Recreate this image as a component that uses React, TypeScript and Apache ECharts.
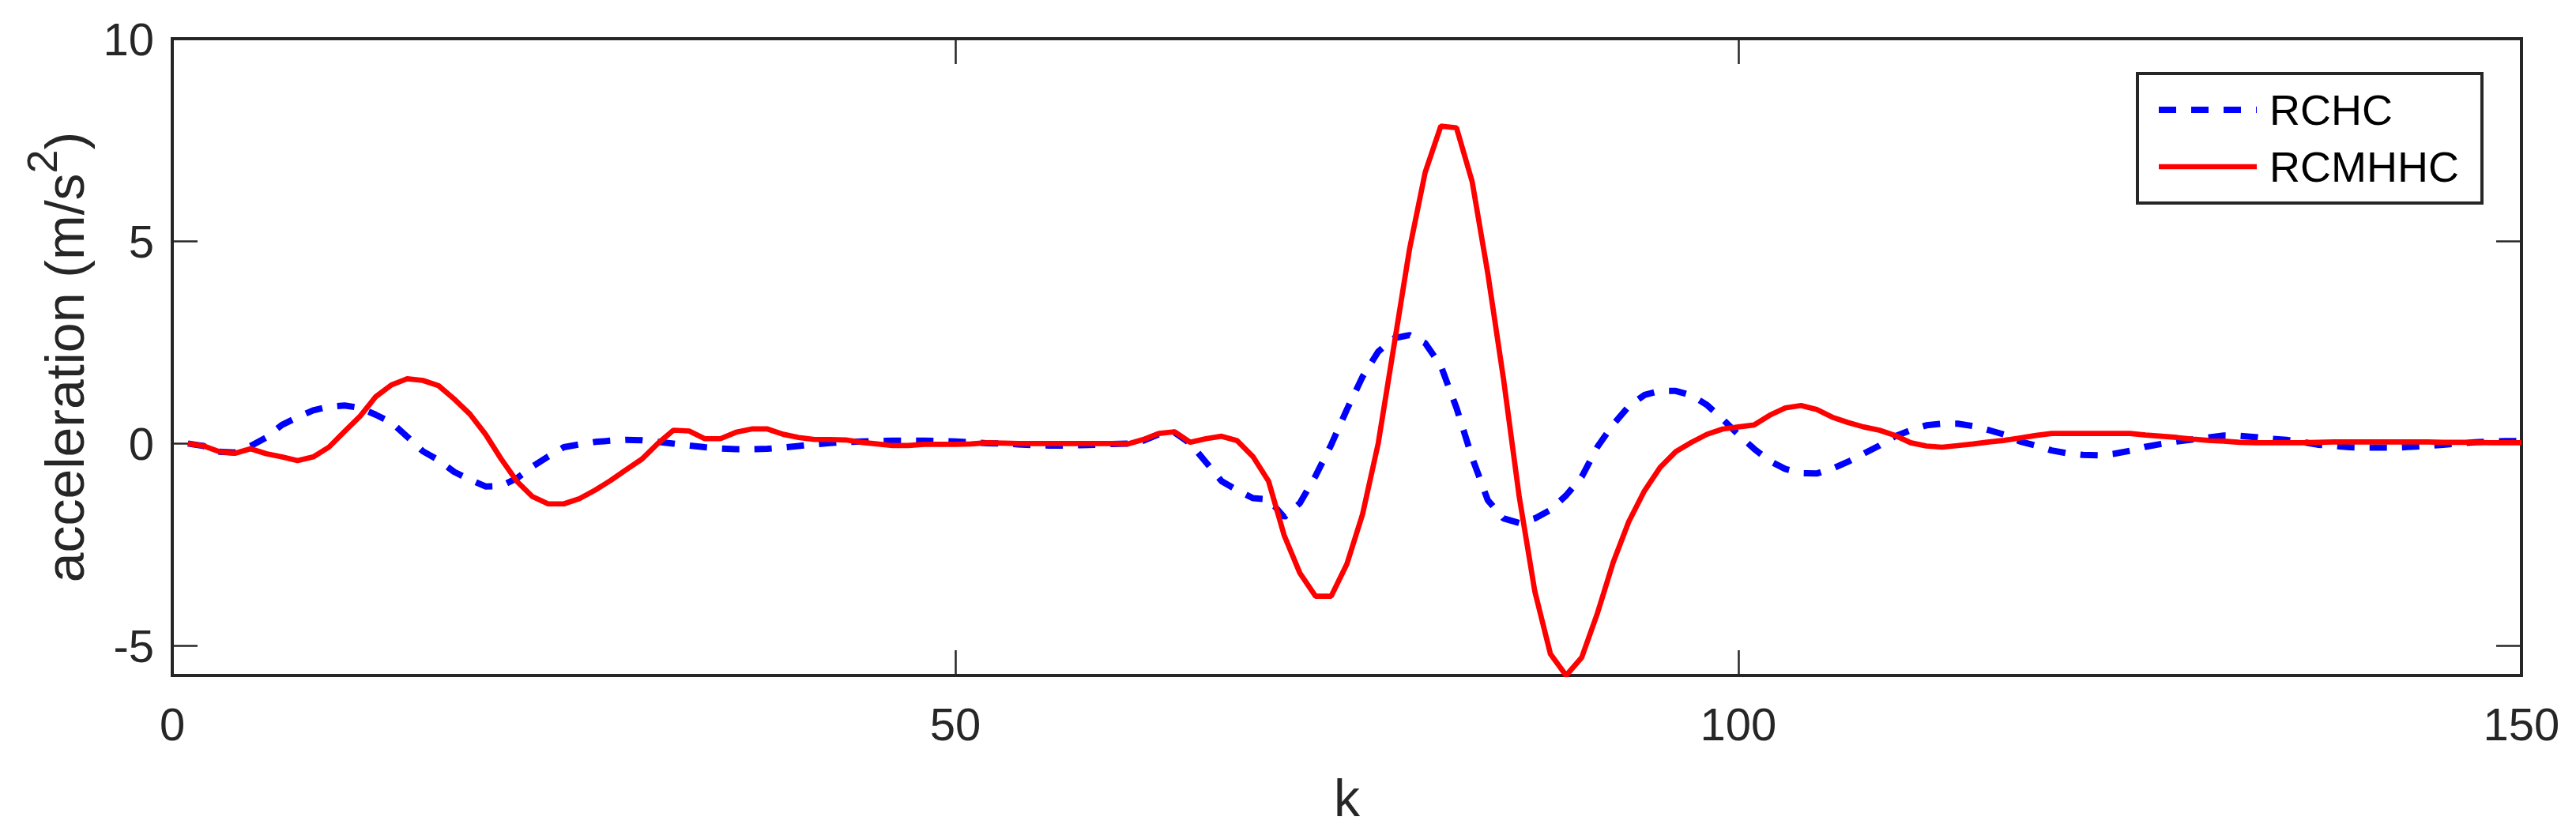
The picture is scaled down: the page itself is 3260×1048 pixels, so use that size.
import React, { useEffect, useRef } from "react";
import * as echarts from "echarts";

// sample index k = 1..150
const rchc: number[] = [
  0, -0.06, -0.2, -0.22, -0.06, 0.15, 0.46, 0.65, 0.82, 0.91,
  0.94, 0.88, 0.71, 0.52, 0.17, -0.19, -0.41, -0.7, -0.89, -1.06,
  -1.05, -0.86, -0.57, -0.32, -0.09, -0.02, 0.04, 0.07, 0.09, 0.08,
  0.04, 0.0, -0.05, -0.09, -0.12, -0.14, -0.14, -0.13, -0.1, -0.06,
  -0.02, 0.01, 0.04, 0.05, 0.06, 0.07, 0.07, 0.07, 0.06, 0.05,
  0.03, 0.01, 0, -0.02, -0.04, -0.05, -0.05, -0.04, -0.03, -0.01,
  0.0, 0.07, 0.23, 0.27, 0.0, -0.46, -0.93, -1.15, -1.35, -1.38,
  -1.82, -1.47, -0.8, -0.03, 0.84, 1.65, 2.27, 2.6, 2.68, 2.48,
  1.92, 0.88, -0.35, -1.4, -1.85, -1.96, -1.85, -1.64, -1.28, -0.82,
  -0.08, 0.47, 0.92, 1.2, 1.3, 1.3, 1.19, 0.95, 0.6, 0.22,
  -0.13, -0.43, -0.63, -0.73, -0.74, -0.62, -0.45, -0.25, -0.05, 0.18,
  0.33, 0.45, 0.49, 0.49, 0.43, 0.33, 0.22, 0.05, -0.05, -0.17,
  -0.24, -0.28, -0.29, -0.25, -0.18, -0.08, -0.01, 0.05, 0.1, 0.15,
  0.2, 0.19, 0.16, 0.12, 0.09, 0.04, -0.03, -0.06, -0.09, -0.1,
  -0.1, -0.1, -0.08, -0.06, -0.03, 0.0, 0.03, 0.05, 0.06, 0.06,
];

const rcmhhc: number[] = [
  0, -0.06, -0.2, -0.24, -0.13, -0.25, -0.33, -0.42, -0.33, -0.09,
  0.3, 0.68, 1.16, 1.45, 1.6, 1.56, 1.43, 1.1, 0.73, 0.23,
  -0.38, -0.93, -1.31, -1.49, -1.49, -1.36, -1.15, -0.91, -0.64, -0.38,
  0.0, 0.33, 0.31, 0.12, 0.12, 0.28, 0.36, 0.36, 0.23, 0.15,
  0.1, 0.1, 0.09, 0.03, -0.01, -0.05, -0.05, -0.02, -0.02, -0.02,
  -0.01, 0.02, 0.01, 0, 0, 0, 0, 0, 0, 0,
  -0.01, 0.1, 0.25, 0.29, 0.03, 0.12, 0.18, 0.07, -0.32, -0.93,
  -2.27, -3.2, -3.77, -3.77, -2.98, -1.75, 0.0, 2.4, 4.8, 6.7,
  7.84, 7.8, 6.47, 4.2, 1.6, -1.3, -3.65, -5.2, -5.73, -5.28,
  -4.19, -2.94, -1.93, -1.17, -0.59, -0.2, 0.03, 0.23, 0.36, 0.41,
  0.46, 0.7, 0.88, 0.94, 0.84, 0.65, 0.52, 0.41, 0.33, 0.2,
  0.02, -0.06, -0.09, -0.05, -0.01, 0.04, 0.08, 0.14, 0.2, 0.25,
  0.25, 0.25, 0.25, 0.25, 0.25, 0.21, 0.18, 0.15, 0.11, 0.08,
  0.06, 0.03, 0.02, 0.02, 0.02, 0.02, 0.03, 0.04, 0.04, 0.04,
  0.04, 0.04, 0.04, 0.04, 0.03, 0.03, 0.03, 0.02, 0.02, 0.02,
];

const seriesNames = ["RCHC", "RCMHHC"];
const seriesColors = ["#0000ff", "#ff0000"];
const xTicks = [0, 50, 100, 150];
const yTicks = [-5, 0, 5, 10];
const xRange = [0, 150];
const yRange = [-5.73, 10];

const FONT = "'Liberation Sans', Arial, Helvetica, sans-serif";
const AX = "#262626";
const BLUE_DASH = [22, 19];
const BLUE_W = 8;
const RED_W = 6.7;

const toPairs = (vals: number[]) => vals.map((v, i) => [i + 1, v]);

export default function App() {
  const ref = useRef<HTMLDivElement>(null);
  useEffect(() => {
    document.body.style.margin = "0";
    if (!ref.current) return;
    const chart = echarts.init(ref.current, undefined, { renderer: "svg" });
    const tick = { show: true, inside: true, length: 32, lineStyle: { color: AX, width: 2.5 } };
    const noLine = { show: false, onZero: false };
    chart.setOption({
      animation: false,
      backgroundColor: "#ffffff",
      grid: {
        left: 218, right: 69, top: 49, bottom: 184,
        show: true, borderColor: AX, borderWidth: 4, backgroundColor: "#ffffff",
      },
      legend: {
        orient: "vertical",
        left: 2705, top: 93,
        padding: [19, 29, 19, 23],
        itemGap: 18,
        itemWidth: 124, itemHeight: 14,
        borderColor: AX, borderWidth: 4, borderRadius: 0,
        backgroundColor: "#ffffff",
        itemStyle: { opacity: 0 },
        textStyle: { fontSize: 54, fontFamily: FONT, color: "#000", padding: [0, 0, 0, 11] },
        data: [
          { name: seriesNames[0], itemStyle: { opacity: 0 }, lineStyle: { color: seriesColors[0], width: BLUE_W, type: BLUE_DASH } },
          { name: seriesNames[1], itemStyle: { opacity: 0 }, lineStyle: { color: seriesColors[1], width: RED_W, type: "solid" } },
        ],
      },
      xAxis: [
        {
          type: "value", min: xRange[0], max: xRange[1], interval: 50, position: "bottom",
          axisLine: noLine, splitLine: { show: false },
          axisTick: { ...tick, customValues: xTicks },
          axisLabel: { customValues: xTicks, fontSize: 58, fontFamily: FONT, color: AX, margin: 32 },
          name: "k", nameLocation: "middle", nameGap: 122,
          nameTextStyle: { fontSize: 66, fontFamily: FONT, color: AX },
        },
        {
          type: "value", min: xRange[0], max: xRange[1], interval: 50, position: "top",
          axisLine: noLine, splitLine: { show: false },
          axisTick: { ...tick, customValues: xTicks },
          axisLabel: { show: false },
        },
      ],
      yAxis: [
        {
          type: "value", min: yRange[0], max: yRange[1], position: "left",
          axisLine: noLine, splitLine: { show: false },
          axisTick: { ...tick, customValues: yTicks },
          axisLabel: { customValues: yTicks, fontSize: 58, fontFamily: FONT, color: AX, margin: 23 },
          name: "{n|acceleration (m/s}{s|2}{n|)}",
          nameLocation: "middle", nameRotate: 90, nameGap: 80,
          nameTextStyle: {
            fontFamily: FONT, color: AX,
            rich: {
              n: { fontSize: 68, lineHeight: 112, fontFamily: FONT, color: AX },
              s: { fontSize: 54, lineHeight: 54, verticalAlign: "top", fontFamily: FONT, color: AX },
            },
          },
        },
        {
          type: "value", min: yRange[0], max: yRange[1], position: "right",
          axisLine: noLine, splitLine: { show: false },
          axisTick: { ...tick, customValues: yTicks },
          axisLabel: { show: false },
        },
      ],
      series: [
        {
          name: seriesNames[0], type: "line", xAxisIndex: 0, yAxisIndex: 0,
          data: toPairs(rchc), symbol: "none", showSymbol: false,
          lineStyle: { color: seriesColors[0], width: BLUE_W, type: BLUE_DASH },
          itemStyle: { color: seriesColors[0] },
          z: 2,
        },
        {
          name: seriesNames[1], type: "line", xAxisIndex: 0, yAxisIndex: 0,
          data: toPairs(rcmhhc), symbol: "none", showSymbol: false,
          lineStyle: { color: seriesColors[1], width: RED_W, type: "solid" },
          itemStyle: { color: seriesColors[1] },
          z: 3,
        },
      ],
    });
    return () => chart.dispose();
  }, []);
  return (
    <div
      ref={ref}
      style={{ position: "absolute", left: 0, top: 0, width: 3260, height: 1048 }}
    />
  );
}
